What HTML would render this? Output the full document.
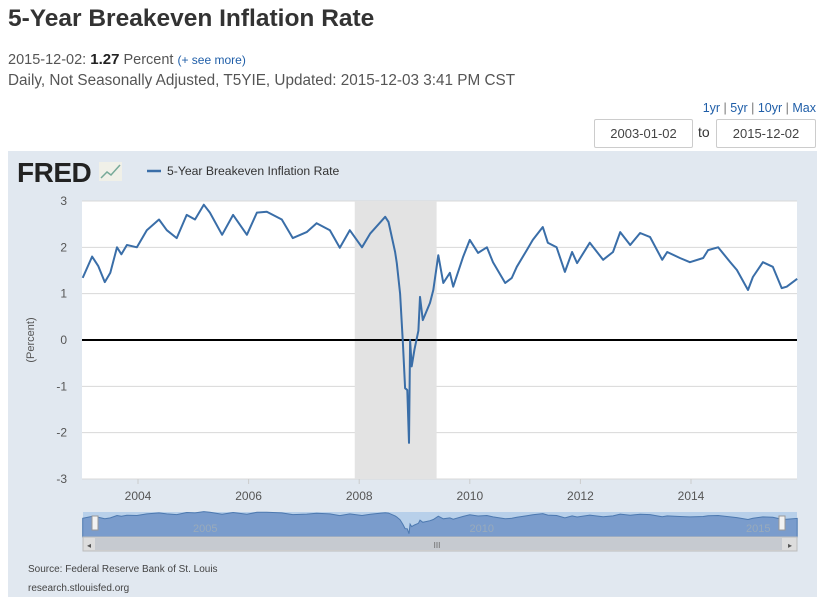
<!DOCTYPE html>
<html><head><meta charset="utf-8">
<style>
body{margin:0;width:820px;height:597px;background:#fff;font-family:"Liberation Sans",sans-serif;position:relative;overflow:hidden;color:#333}
.abs{position:absolute;white-space:nowrap}
a{color:#1f5ea8;text-decoration:none}
.inp{position:absolute;top:119px;height:27px;border:1px solid #ccc;border-radius:2px;font-size:13px;line-height:27px;text-align:center;color:#444;background:#fff}
</style></head><body>
<div class="abs" style="left:8px;top:5px;font-size:24.5px;font-weight:bold;color:#333">5-Year Breakeven Inflation Rate</div>
<div class="abs" style="left:8px;top:51px;font-size:14.5px;color:#555">2015-12-02: <b style="color:#222;font-size:15px">1.27</b> Percent <a style="font-size:12px">(+ see more)</a></div>
<div class="abs" style="left:8px;top:72px;font-size:15.3px;color:#555">Daily, Not Seasonally Adjusted, T5YIE, Updated: 2015-12-03 3:41 PM CST</div>
<div class="abs" style="right:4px;top:101px;font-size:12.5px;color:#777"><a>1yr</a> | <a>5yr</a> | <a>10yr</a> | <a>Max</a></div>
<div class="inp" style="left:594px;width:97px">2003-01-02</div>
<div class="abs" style="left:698px;top:124px;font-size:14px">to</div>
<div class="inp" style="left:716px;width:98px">2015-12-02</div>
<svg class="abs" style="left:0;top:0" width="820" height="597" id="svg">
<rect x="8" y="151" width="809" height="446" fill="#e1e8f0"/>
<text x="17" y="182" font-size="28" font-weight="bold" fill="#222" font-family="Liberation Sans" letter-spacing="-0.5">FRED</text>
<rect x="99" y="162" width="23" height="19" fill="#f0f0e8"/>
<polyline points="101,178 107,172 111,175 120,165" fill="none" stroke="#7a9" stroke-width="1.5"/>
<line x1="147" y1="171" x2="161" y2="171" stroke="#3a6ea8" stroke-width="2.5"/>
<text x="167" y="175" font-size="12.2" fill="#333" font-family="Liberation Sans">5-Year Breakeven Inflation Rate</text>
<rect x="82" y="201" width="715" height="278" fill="#fff"/>
<g id="grid"></g><g id="rec"></g><g id="series"></g><g id="nav"></g>
<text x="34" y="340" font-size="11" fill="#555" text-anchor="middle" transform="rotate(-90 34 340)" font-family="Liberation Sans">(Percent)</text>
<rect x="83" y="537" width="714" height="14" fill="#ddd" stroke="#bbb"/>
<rect x="95" y="538" width="687" height="12" fill="#c6cad0"/>
<text x="437" y="548" font-size="8" fill="#666" text-anchor="middle">III</text>
<text x="89" y="548" font-size="8" fill="#555" text-anchor="middle">◂</text>
<text x="790" y="548" font-size="8" fill="#555" text-anchor="middle">▸</text>
<text x="28" y="572" font-size="10" fill="#444" font-family="Liberation Sans">Source: Federal Reserve Bank of St. Louis</text>
<text x="28" y="591" font-size="10" fill="#444" font-family="Liberation Sans">research.stlouisfed.org</text>
</svg>
<script>
const years=[2003.0,2003.17,2003.28,2003.4,2003.5,2003.62,2003.7,2003.8,2003.98,2004.16,2004.38,2004.52,2004.7,2004.88,2005.03,2005.19,2005.3,2005.52,2005.72,2005.97,2006.15,2006.33,2006.6,2006.8,2007.05,2007.23,2007.47,2007.65,2007.83,2008.05,2008.2,2008.47,2008.53,2008.65,2008.68,2008.74,2008.79,2008.83,2008.87,2008.9,2008.92,2008.95,2009.0,2009.07,2009.1,2009.15,2009.28,2009.34,2009.43,2009.52,2009.64,2009.7,2009.88,2010.0,2010.15,2010.31,2010.42,2010.64,2010.76,2010.85,2011.03,2011.14,2011.32,2011.41,2011.57,2011.72,2011.85,2011.94,2012.17,2012.41,2012.59,2012.72,2012.9,2013.08,2013.26,2013.48,2013.57,2013.8,2013.98,2014.22,2014.31,2014.49,2014.71,2014.83,2015.03,2015.12,2015.3,2015.48,2015.64,2015.73,2015.92];
const values=[1.34,1.8,1.6,1.25,1.45,2.0,1.85,2.05,2.0,2.37,2.6,2.37,2.2,2.7,2.6,2.92,2.75,2.27,2.7,2.27,2.75,2.77,2.6,2.2,2.33,2.52,2.37,1.99,2.37,2.0,2.3,2.66,2.55,1.9,1.66,1.0,-0.07,-1.04,-1.08,-2.22,0,-0.57,-0.2,0.2,0.93,0.43,0.8,1.08,1.83,1.23,1.45,1.15,1.8,2.16,1.88,2.0,1.68,1.23,1.34,1.58,1.94,2.16,2.44,2.1,2.0,1.47,1.9,1.66,2.1,1.73,1.9,2.33,2.05,2.31,2.22,1.73,1.9,1.77,1.68,1.77,1.94,2.0,1.68,1.51,1.08,1.36,1.68,1.58,1.12,1.15,1.32];
const yTicks=[3,2,1,0,-1,-2,-3];
const xTicks=[2004,2006,2008,2010,2012,2014];
const navTicks=[2005,2010,2015];
const recession=[2007.92,2009.4];
const NS="http://www.w3.org/2000/svg";
const X=y=>82.7+(y-2003)*55.3;
const Y=v=>340-v*46.33;
const NY=v=>534-(v+2.3)*4.3;
function mk(t,a,p){const e=document.createElementNS(NS,t);for(const k in a)e.setAttribute(k,a[k]);p.appendChild(e);return e;}
const grid=document.getElementById('grid');
yTicks.forEach(v=>{
 const l=mk('line',{x1:82,x2:797,y1:Y(v),y2:Y(v),stroke:'#d8d8d8'},grid);
 
 
 const t=mk('text',{x:67,y:Y(v)+4,'font-size':12,fill:'#555','text-anchor':'end','font-family':'Liberation Sans'},grid);t.textContent=v;
 
 
});
xTicks.forEach(y=>{
 mk('line',{x1:X(y),x2:X(y),y1:479,y2:484,stroke:'#ccc'},grid);
 const t=mk('text',{x:X(y),y:500,'font-size':12,fill:'#555','text-anchor':'middle','font-family':'Liberation Sans'},grid);t.textContent=y;
 
 
});
const r=mk('rect',{x:X(recession[0]),y:201,width:X(recession[1])-X(recession[0]),height:278,fill:'#e3e3e3'},document.getElementById('rec'));


const s=document.getElementById('series');
const z=mk('line',{x1:82,x2:797,y1:Y(0),y2:Y(0),stroke:'#000','stroke-width':2},s);


const pts=years.map((y,i)=>X(y).toFixed(1)+','+Y(values[i]).toFixed(1)).join(' ');
const pl=mk('polyline',{points:pts,fill:'none',stroke:'#3a6ea8','stroke-width':2,'stroke-linejoin':'round'},s);


const nav=document.getElementById('nav');
const nb=mk('rect',{x:83,y:512,width:714,height:25,fill:'#b8d0ea'},nav);


const npts=years.map((y,i)=>X(y).toFixed(1)+','+NY(values[i]).toFixed(1)).join(' ');
const na=mk('polygon',{points:X(years[0])+',537 '+npts+' '+X(years[years.length-1])+',537',fill:'#7a9ccc',stroke:'#4d79b0','stroke-width':1},nav);


navTicks.forEach(y=>{const t=mk('text',{x:X(y)+12,y:532,'font-size':11,fill:'#9ab','text-anchor':'middle','font-family':'Liberation Sans'},nav);t.textContent=y;
 
 });
[95,782].forEach(x=>{const h=mk('rect',{x:x-3,y:516,width:6,height:14,fill:'#f2f2f2',stroke:'#999'},nav);
 
 });
</script>
</body></html>
